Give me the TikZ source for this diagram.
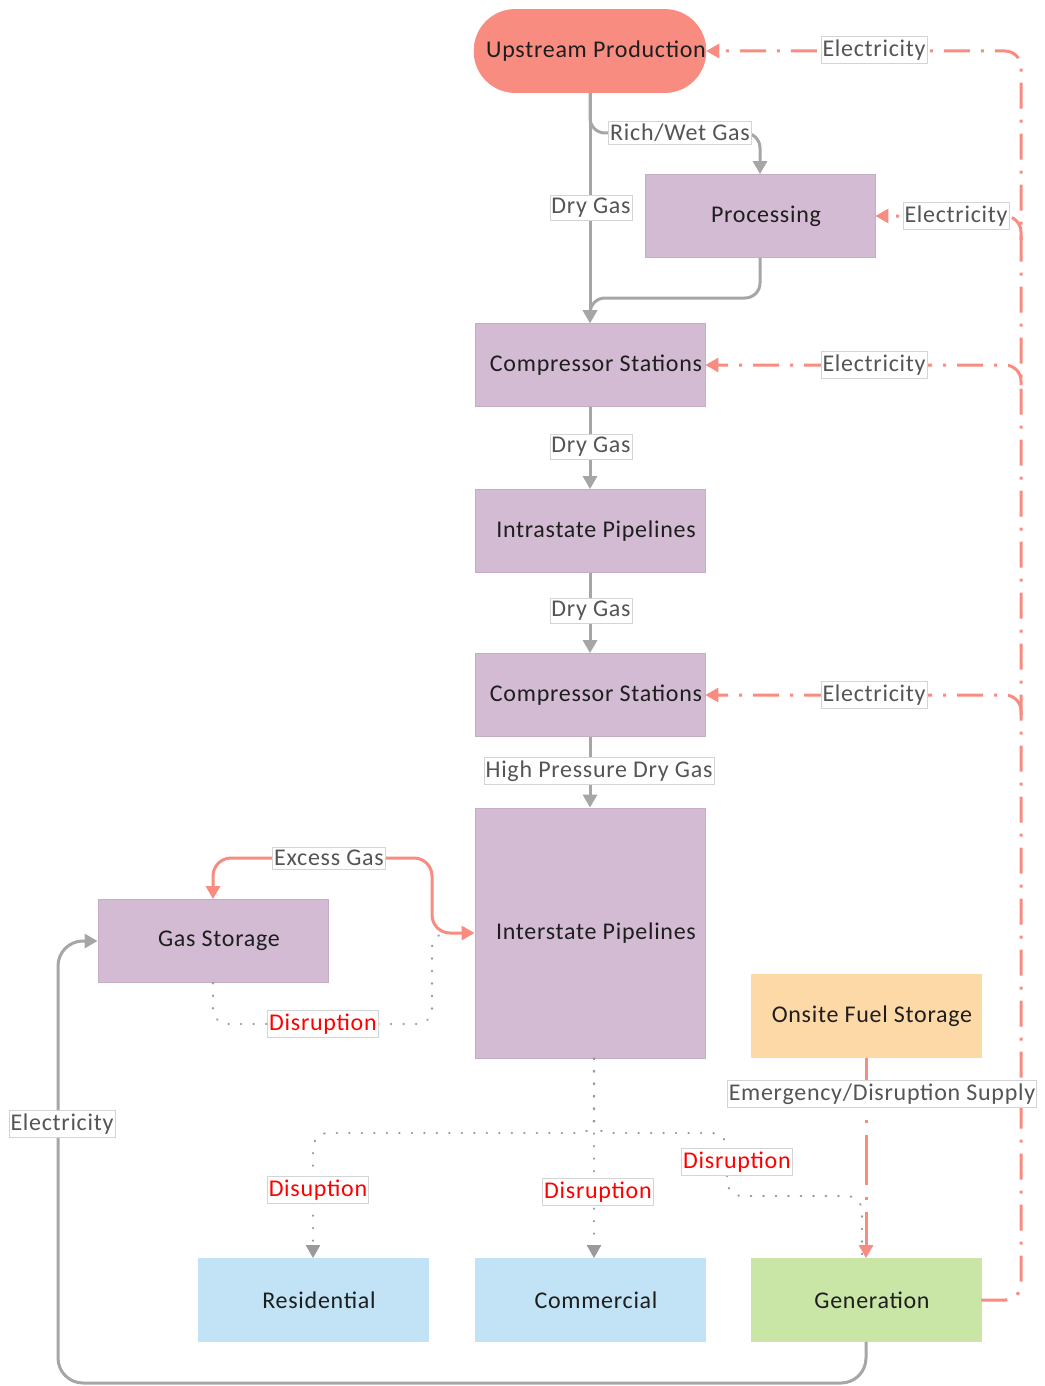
\documentclass[tikz,border=0pt]{standalone}
\usepackage{fontspec}
\setmainfont{Carlito}[LetterSpace=3]
\usetikzlibrary{arrows.meta}

\definecolor{salmon}{HTML}{F98C80}
\definecolor{lav}{HTML}{D3BCD3}
\definecolor{lavedge}{HTML}{C4AEC6}
\definecolor{orng}{HTML}{FDD9A7}
\definecolor{skyb}{HTML}{C2E3F5}
\definecolor{leaf}{HTML}{C9E6A7}
\definecolor{pipe}{HTML}{A6A6A6}
\definecolor{dotg}{HTML}{9A9A9A}
\definecolor{labedge}{HTML}{D4D4D4}
\definecolor{labtext}{HTML}{555555}
\definecolor{ink}{HTML}{1E1E1E}

\tikzset{
  box/.style={draw=lavedge, line width=0.8pt, minimum width=230pt, minimum height=83pt,
    inner sep=0pt, font=\fontsize{24}{28}\selectfont, text=ink,
    execute at begin node={\hspace*{12pt}}},
  purplebox/.style={box, fill=lav},
  elab/.style={fill=white, draw=labedge, line width=0.7pt, inner xsep=1.5pt, inner ysep=3pt,
    font=\fontsize{24}{28}\selectfont, text=labtext},
  rlab/.style={elab, text=red},
  gtip/.style={-{Triangle[width=14pt,length=13pt]}},
  gasline/.style={draw=pipe, line width=3pt, rounded corners=15pt},
  excess/.style={draw=salmon, line width=3pt, rounded corners=18pt},
  elec/.style={draw=salmon, line width=3pt, rounded corners=16pt,
    dash pattern=on 26pt off 11pt on 3pt off 11pt},
  emerg/.style={draw=salmon, line width=3pt,
    dash pattern=on 50pt off 12pt on 3pt off 12pt},
  dis/.style={draw=dotg, line width=2.2pt, rounded corners=15pt, line cap=round,
    dash pattern=on 0.5pt off 12pt}
}

\begin{document}
\begin{tikzpicture}[x=1pt,y=-1pt]
\useasboundingbox (0,0) rectangle (1044,1386);

% nodes
\node[box, fill=salmon, draw=salmon, rounded corners=41pt] (up) at (590,51) {Upstream Production};
\node[purplebox] (proc) at (760,216) {Processing};
\node[purplebox] (cs1) at (590,365) {Compressor Stations};
\node[purplebox] (intra) at (590,531) {Intrastate Pipelines};
\node[purplebox] (cs2) at (590,695) {Compressor Stations};
\node[purplebox, minimum height=250pt] (inter) at (590,933) {Interstate Pipelines};
\node[purplebox] (gs) at (213,941) {Gas Storage};
\node[box, fill=orng, draw=orng] (ofs) at (866,1016) {Onsite Fuel Storage};
\node[box, fill=skyb, draw=skyb] (res) at (313,1300) {Residential};
\node[box, fill=skyb, draw=skyb] (com) at (590,1300) {Commercial};
\node[box, fill=leaf, draw=leaf] (gen) at (866,1300) {Generation};

% disruption paths (dotted)
\draw[dis] (gs.south) -- (213,1024) -- (432,1024) -- (432,933) -- (inter.west);
\draw[dis, gtip, dotg] ([xshift=4pt]inter.south) -- ([xshift=4pt]com.north);
\draw[dis, gtip, dotg] ([xshift=4pt]inter.south) -- (594,1133) -- (313,1133) -- (res.north);
\draw[dis] ([xshift=4pt]inter.south) -- (594,1133) -- (727,1133) -- (727,1196) -- (862,1196) -- ([xshift=-4pt]gen.north);

% gas flow
\draw[gasline, gtip] (up.south) -- (cs1.north);
\draw[gasline, gtip] (up.south) -- (590,133) -- (760,133) -- (proc.north);
\draw[gasline, gtip] (proc.south) -- (760,298) -- (590,298) -- (cs1.north);
\draw[gasline, gtip] (cs1.south) -- (intra.north);
\draw[gasline, gtip] (intra.south) -- (cs2.north);
\draw[gasline, gtip] (cs2.south) -- (inter.north);
\draw[gasline, gtip, rounded corners=25pt] (gen.south) -- (866,1383) -- (58,1383) -- (58,941) -- (gs.west);

% excess gas exchange
\draw[excess, {Triangle[width=14pt,length=13pt]}-{Triangle[width=14pt,length=13pt]}]
  (gs.north) -- (213,858) -- (432,858) -- (432,933) -- (inter.west);

% electricity supply
\draw[elec, gtip] (gen.east) -- (1021,1300) -- (1021,51) -- (up.east);
\draw[elec, gtip] (1021,240) |- (proc.east);
\draw[elec, gtip] (1021,385) |- (cs1.east);
\draw[elec, gtip] (1021,715) |- (cs2.east);

% emergency supply
\draw[emerg, gtip] (ofs.south) -- (gen.north);

% labels
\node[elab] (l1) at (874,50) {Electricity};
\node[elab] (l2) at (680,133) {Rich/Wet Gas};
\node[elab] (l3) at (591,208) {Dry Gas};
\node[elab] (l4) at (956,216) {Electricity};
\node[elab] (l5) at (874,365) {Electricity};
\node[elab] (l6) at (591,447) {Dry Gas};
\node[elab] (l7) at (591,611) {Dry Gas};
\node[elab] (l8) at (874,695) {Electricity};
\node[elab] (l9) at (599,771) {High Pressure Dry Gas};
\node[elab] (l10) at (329,858) {Excess Gas};
\node[rlab] (l11) at (323,1024) {Disruption};
\node[elab] (l12) at (882,1094) {Emergency/Disruption Supply};
\node[elab] (l13) at (62,1124) {Electricity};
\node[rlab] (l14) at (737,1162) {Disruption};
\node[rlab] (l15) at (318,1190) {Disuption};
\node[rlab] (l16) at (598,1192) {Disruption};
\end{tikzpicture}
\end{document}
